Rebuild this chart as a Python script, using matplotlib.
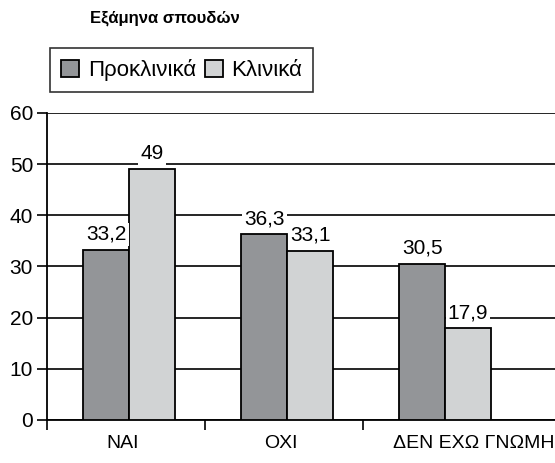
import matplotlib.pyplot as plt
import numpy as np

plt.rcParams['font.family'] = ['Liberation Sans', 'DejaVu Sans']

categories = ["ΝΑΙ", "ΟΧΙ", "ΔΕΝ ΕΧΩ ΓΝΩΜΗ"]
preclinical = [33.2, 36.3, 30.5]
clinical = [49, 33.1, 17.9]
series_names = ["Προκλινικά", "Κλινικά"]
title = "Εξάμηνα σπουδών"

fig = plt.figure(figsize=(5.55, 4.63), dpi=100)
ax = fig.add_axes([0.0847, 0.093, 0.9153, 0.663])

x = np.arange(len(categories))
w = 0.29
b1 = ax.bar(x - w / 2 + 0.02, preclinical, w, color='#939598', edgecolor='black',
            linewidth=1.3, label=series_names[0], zorder=3)
b2 = ax.bar(x + w / 2 + 0.02, clinical, w, color='#d1d3d4', edgecolor='black',
            linewidth=1.3, label=series_names[1], zorder=3)

def fmt(v):
    return (f"{v:g}").replace(".", ",")

for bars, vals in [(b1, preclinical), (b2, clinical)]:
    for r, v in zip(bars, vals):
        ax.text(r.get_x() + r.get_width() / 2, v + 1.2, fmt(v), ha='center', va='bottom',
                fontsize=15, zorder=4,
                bbox=dict(facecolor='white', edgecolor='none', pad=1.5))

ax.set_ylim(0, 60)
ax.set_yticks(range(0, 61, 10))
ax.set_xlim(-0.5, 2.715)
ax.yaxis.grid(True, color='black', linewidth=1.2, zorder=0)
ax.set_axisbelow(True)

# the last label sits a little right of its group in the original
ax.set_xticks([-0.02, 0.98, 2.2])
ax.set_xticklabels(categories, fontsize=14)
ax.tick_params(axis='x', which='major', length=0, pad=11)
ax.set_xticks([-0.5, 0.5, 1.5], minor=True)
ax.tick_params(axis='x', which='minor', length=7, width=1.2, direction='out')
ax.tick_params(axis='y', length=7, width=1.2, labelsize=15, pad=3)

for s in ['top', 'right']:
    ax.spines[s].set_visible(False)
for s in ['left', 'bottom']:
    ax.spines[s].set_linewidth(1.3)

fig.text(0.163, 0.96, title, fontsize=12, fontweight='bold', va='center')
leg = fig.legend(loc='upper left', bbox_to_anchor=(0.09, 0.896), ncol=2, frameon=True,
                 fontsize=16, fancybox=False, edgecolor='black', handlelength=0.8,
                 handleheight=0.8, handletextpad=0.4, columnspacing=0.4, borderpad=0.5,
                 borderaxespad=0)
leg.get_frame().set_linewidth(1.2)

fig.savefig("out.png", dpi=100)
